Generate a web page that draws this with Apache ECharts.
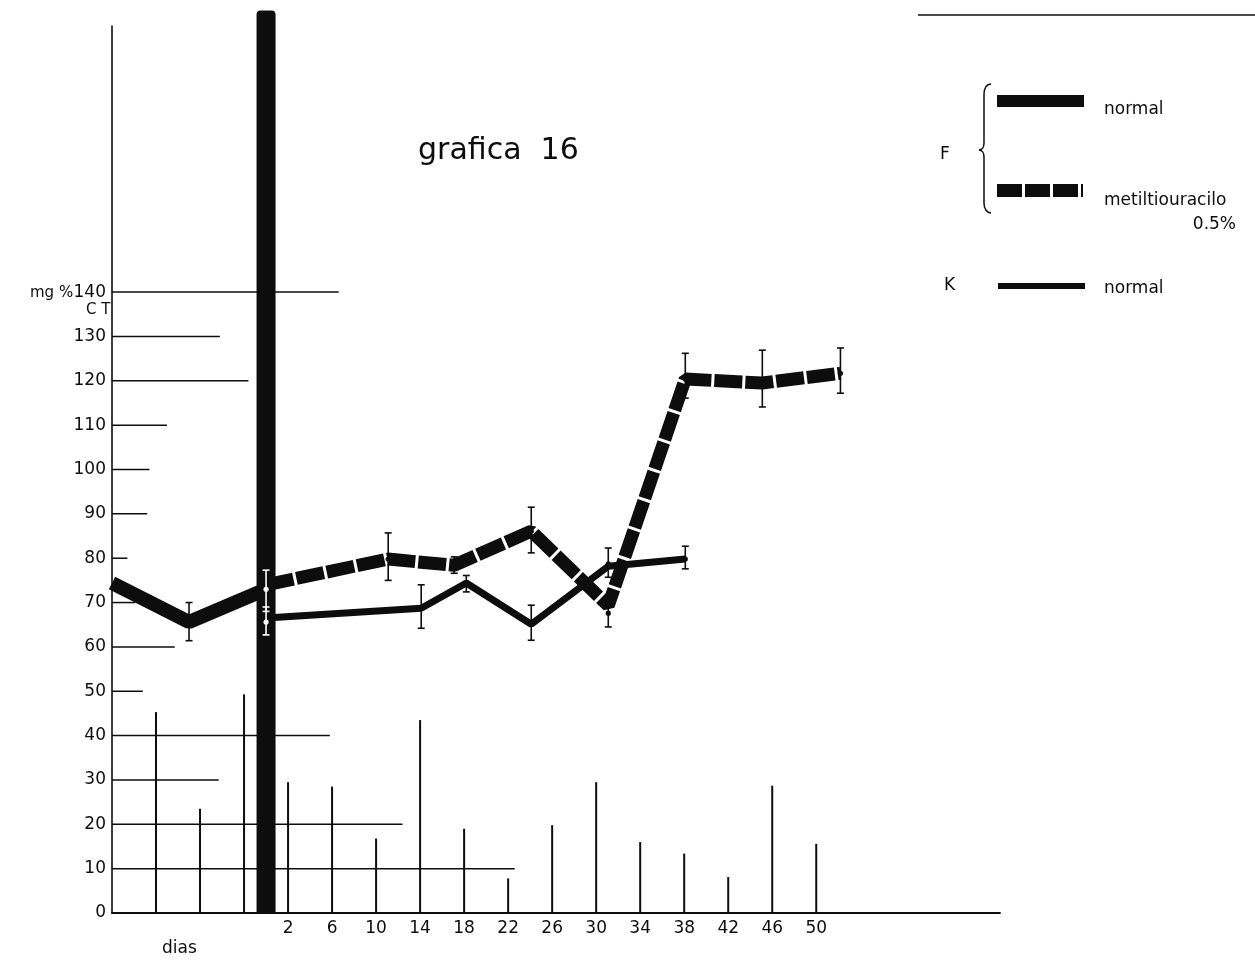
<!DOCTYPE html>
<html><head><meta charset="utf-8">
<script src="https://cdn.jsdelivr.net/npm/echarts@6/dist/echarts.min.js"></script>
<style>html,body{margin:0;padding:0;background:#fff}#c{width:1255px;height:960px}</style>
</head><body><div id="c"></div>
<script>
// ---- data (days on x, mg% on y) ----
const stemDays   = [-10, -6, -2, 2, 6, 10, 14, 18, 22, 26, 30, 34, 38, 42, 46, 50];
const stemValues = [45.3, 23.5, 49.3, 29.5, 28.5, 16.8, 43.5, 19, 7.8, 19.8, 29.5, 16, 13.4, 8.1, 28.7, 15.6];

const markerDay = 0;
const markerTop = 203.5;

const fNormalDays   = [-14, -7, 0];
const fNormalValues = [74.4, 65.6, 73];

const metilDays   = [0, 11.1, 17.1, 24.1, 31.1, 38.1, 45.1, 52.2];
const metilValues = [74, 79.8, 78.4, 86.1, 69.3, 120.4, 119.5, 121.7];

const kDays   = [0, 14.1, 18.2, 24.1, 31.1, 38.1];
const kValues = [66.5, 68.7, 74.4, 65.1, 78.2, 79.8];

// error bars: day, low, high, mean
const fErrDays  = [-7, 0, 11.1, 17.1, 24.1, 31.1, 38.1, 45.1, 52.2];
const fErrLow   = [61.4, 68, 75, 76.6, 81.2, 64.5, 116.1, 114.1, 117.2];
const fErrHigh  = [70, 77.3, 85.7, 80.3, 91.5, 71.2, 126.2, 126.9, 127.4];
const fErrMean  = [65.4, 73, 79.8, 78.4, 86.1, 67.6, 120.4, 119.5, 121.7];

const kErrDays  = [0, 14.1, 18.2, 24.1, 31.1, 38.1];
const kErrLow   = [62.7, 64.2, 72.4, 61.5, 75.7, 77.6];
const kErrHigh  = [69, 74, 76.1, 69.4, 82.3, 82.7];
const kErrMean  = [65.6, 69, 74.4, 65.1, 78.7, 79.8];

// partial horizontal rulings: level and the day where each ends
const ruleLevels = [10, 20, 30, 40, 50, 60, 70, 80, 90, 100, 110, 120, 130, 140];
const ruleEnds   = [22.6, 12.4, -4.3, 5.8, -11.2, -8.3, -11.9, -12.6, -10.8, -10.6, -9, -1.6, -4.2, 6.6];

const xLabelMin = 2, xLabelMax = 50;
const yLabelMax = 140;

// ---- chart ----
const X_MIN = -14, X_MAX = 66.7;
const FONT = 'DejaVu Sans';
const INK = '#0d0d0d';

const chart = echarts.init(document.getElementById('c'), null, {renderer: 'canvas'});

function errRender(params, api) {
  const x = api.value(0), lo = api.value(1), hi = api.value(2), m = api.value(3);
  const pl = api.coord([x, lo]), ph = api.coord([x, hi]), pm = api.coord([x, m]);
  const col = Math.abs(x - markerDay) < 1 ? '#ffffff' : INK;
  const c = 3.5;
  const st = {stroke: col, lineWidth: 1.6};
  return {type: 'group', children: [
    {type: 'line', shape: {x1: pl[0], y1: pl[1], x2: ph[0], y2: ph[1]}, style: st},
    {type: 'line', shape: {x1: pl[0] - c, y1: pl[1], x2: pl[0] + c, y2: pl[1]}, style: st},
    {type: 'line', shape: {x1: ph[0] - c, y1: ph[1], x2: ph[0] + c, y2: ph[1]}, style: st},
    {type: 'circle', shape: {cx: pm[0], cy: pm[1], r: 2.6}, style: {fill: col}}
  ]};
}

const option = {
  animation: false,
  backgroundColor: '#ffffff',
  grid: {left: 112, right: 255, top: 26, bottom: 47, containLabel: false},
  xAxis: {
    type: 'value', min: X_MIN, max: X_MAX, interval: 4,
    axisLine: {show: true, onZero: false, lineStyle: {color: INK, width: 1.8}},
    axisTick: {show: false},
    splitLine: {show: false},
    axisLabel: {
      show: true, margin: 7, color: INK, fontFamily: FONT, fontSize: 17,
      showMinLabel: true, showMaxLabel: false,
      formatter: v => (v >= xLabelMin && v <= xLabelMax) ? String(Math.round(v)) : ''
    }
  },
  yAxis: {
    type: 'value', min: 0, max: 200, interval: 10,
    axisLine: {show: true, onZero: false, lineStyle: {color: INK, width: 1.6}},
    axisTick: {show: false},
    splitLine: {show: false},
    axisLabel: {
      margin: 6, color: INK, fontFamily: FONT, fontSize: 17,
      formatter: v => v <= yLabelMax ? String(v) : ''
    }
  },
  graphic: [
    {type: 'text', left: 418, top: 136, style: {text: 'grafica  16', font: '30px "DejaVu Sans"', fill: INK}},
    {type: 'text', left: 30, top: 286, style: {text: 'mg %', font: '15px "DejaVu Sans"', fill: INK}},
    {type: 'text', left: 86, top: 303, style: {text: 'C T', font: '15px "DejaVu Sans"', fill: INK}},
    {type: 'text', left: 162, top: 940, style: {text: 'dias', font: '17px "DejaVu Sans"', fill: INK}},
    {type: 'line', shape: {x1: 918, y1: 15, x2: 1255, y2: 15}, style: {stroke: INK, lineWidth: 1.5}},
    // legend
    {type: 'text', left: 940, top: 146, style: {text: 'F', font: '17px "DejaVu Sans"', fill: INK}},
    {type: 'bezierCurve', shape: {x1: 991, y1: 84, cpx1: 986, cpy1: 84, cpx2: 984, cpy2: 88, x2: 984, y2: 95}, style: {stroke: INK, lineWidth: 1.5, fill: null}},
    {type: 'line', shape: {x1: 984, y1: 95, x2: 984, y2: 143}, style: {stroke: INK, lineWidth: 1.5}},
    {type: 'bezierCurve', shape: {x1: 984, y1: 143, cpx1: 984, cpy1: 147, cpx2: 982, cpy2: 150, x2: 979, y2: 150}, style: {stroke: INK, lineWidth: 1.5, fill: null}},
    {type: 'bezierCurve', shape: {x1: 979, y1: 150, cpx1: 982, cpy1: 150, cpx2: 984, cpy2: 153, x2: 984, y2: 157}, style: {stroke: INK, lineWidth: 1.5, fill: null}},
    {type: 'line', shape: {x1: 984, y1: 157, x2: 984, y2: 203}, style: {stroke: INK, lineWidth: 1.5}},
    {type: 'bezierCurve', shape: {x1: 984, y1: 203, cpx1: 984, cpy1: 209, cpx2: 987, cpy2: 213, x2: 991, y2: 213}, style: {stroke: INK, lineWidth: 1.5, fill: null}},
    {type: 'rect', shape: {x: 997, y: 95, width: 87, height: 12}, style: {fill: INK}},
    {type: 'text', left: 1104, top: 101, style: {text: 'normal', font: '17px "DejaVu Sans"', fill: INK}},
    {type: 'line', shape: {x1: 997, y1: 190.5, x2: 1083, y2: 190.5}, style: {stroke: INK, lineWidth: 13, lineDash: [25, 3]}},
    {type: 'text', left: 1104, top: 192, style: {text: 'metiltiouracilo', font: '17px "DejaVu Sans"', fill: INK}},
    {type: 'text', right: 19, top: 216, style: {text: '0.5%', font: '17px "DejaVu Sans"', fill: INK}},
    {type: 'text', left: 944, top: 277, style: {text: 'K', font: '17px "DejaVu Sans"', fill: INK}},
    {type: 'rect', shape: {x: 998, y: 283, width: 87, height: 6}, style: {fill: INK}},
    {type: 'text', left: 1104, top: 280, style: {text: 'normal', font: '17px "DejaVu Sans"', fill: INK}}
  ],
  series: [
    {
      name: 'rulings', type: 'custom', z: 1, silent: true,
      data: ruleLevels.map((y, i) => [y, ruleEnds[i]]),
      renderItem: (params, api) => {
        const a = api.coord([X_MIN, api.value(0)]);
        const b = api.coord([api.value(1), api.value(0)]);
        return {type: 'line', shape: {x1: a[0], y1: a[1], x2: b[0], y2: b[1]}, style: {stroke: INK, lineWidth: 1.5}};
      }
    },
    {
      name: 'stems', type: 'custom', z: 2, silent: true,
      data: stemDays.map((d, i) => [d, stemValues[i]]),
      renderItem: (params, api) => {
        const a = api.coord([api.value(0), 0]);
        const b = api.coord([api.value(0), api.value(1)]);
        return {type: 'line', shape: {x1: a[0], y1: a[1], x2: b[0], y2: b[1]}, style: {stroke: INK, lineWidth: 2}};
      }
    },
    {
      name: 'marker', type: 'custom', z: 3, silent: true, clip: false,
      data: [[markerDay, markerTop]],
      renderItem: (params, api) => {
        const a = api.coord([api.value(0), 0]);
        const b = api.coord([api.value(0), api.value(1)]);
        const w = 19;
        return {type: 'rect', shape: {x: a[0] - w / 2, y: b[1], width: w, height: a[1] - b[1], r: [4, 4, 0, 0]}, style: {fill: INK}};
      }
    },
    {
      name: 'F normal', type: 'line', z: 4, showSymbol: false, silent: true,
      data: fNormalDays.map((d, i) => [d, fNormalValues[i]]),
      lineStyle: {color: INK, width: 14, cap: 'butt', join: 'bevel'}
    },
    {
      name: 'F metiltiouracilo 0.5%', type: 'line', z: 4, showSymbol: false, silent: true,
      data: metilDays.map((d, i) => [d, metilValues[i]]),
      lineStyle: {color: INK, width: 13, type: [28, 3], cap: 'butt', join: 'bevel'}
    },
    {
      name: 'K normal', type: 'line', z: 4, showSymbol: false, silent: true,
      data: kDays.map((d, i) => [d, kValues[i]]),
      lineStyle: {color: INK, width: 7, cap: 'butt', join: 'bevel'}
    },
    {
      name: 'F err', type: 'custom', z: 6, silent: true, clip: false,
      data: fErrDays.map((d, i) => [d, fErrLow[i], fErrHigh[i], fErrMean[i]]),
      renderItem: errRender
    },
    {
      name: 'K err', type: 'custom', z: 6, silent: true, clip: false,
      data: kErrDays.map((d, i) => [d, kErrLow[i], kErrHigh[i], kErrMean[i]]),
      renderItem: errRender
    }
  ]
};
chart.setOption(option);
</script>
</body></html>
